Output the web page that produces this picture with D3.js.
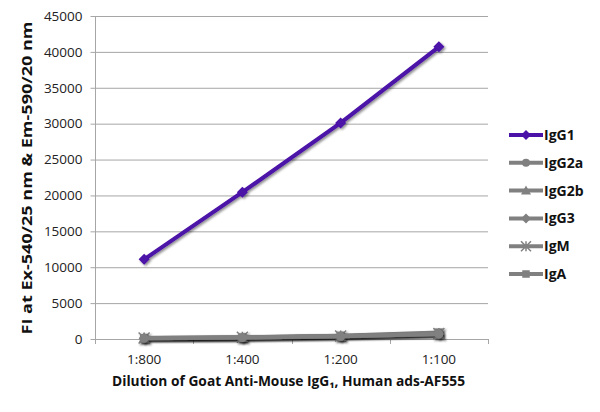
<!DOCTYPE html>
<html><head><meta charset="utf-8">
<script src="https://cdn.jsdelivr.net/npm/d3@7"></script>
<style>body{margin:0;background:#fff;}svg{display:block;}</style>
</head><body><svg id="c" width="600" height="412"></svg>
<script>
const categories = ["1:800","1:400","1:200","1:100"];
const seriesNames = ["IgG1","IgG2a","IgG2b","IgG3","IgM","IgA"];
const IgG1  = [11100, 20450, 30100, 40700];
const IgG2a = [120, 200, 380, 700];
const IgG2b = [100, 180, 350, 650];
const IgG3  = [110, 190, 370, 680];
const IgM   = [150, 250, 420, 750];
const IgA   = [130, 220, 450, 900];
const yTicks = [0,5000,10000,15000,20000,25000,30000,35000,40000,45000];
const yTitle = "FI at Ex-540/25 nm & Em-590/20 nm";
const xTitle = "Dilution of Goat Anti-Mouse IgG\u2081, Human ads-AF555";

const seriesData = [IgG1, IgG2a, IgG2b, IgG3, IgM, IgA];
const colors = ["#4b12a8","#808080","#808080","#808080","#808080","#808080"];
const shapes = ["diamond","circle","triangle","diamond","star","square"];

const svg = d3.select("#c");
const font = "'Open Sans', 'Liberation Sans', sans-serif";
const L=95, R=488, T=16, B=339;
const x = d3.scaleBand().domain(categories).range([L,R]);
const y = d3.scaleLinear().domain([0,45000]).range([B,T]);

const defs = svg.append("defs");
const f = defs.append("filter").attr("id","sh").attr("x","-50%").attr("y","-50%").attr("width","200%").attr("height","200%");
f.append("feDropShadow").attr("dx",1.5).attr("dy",1.5).attr("stdDeviation",1.3).attr("flood-color","#000").attr("flood-opacity",0.45);

// gridlines
svg.append("g").selectAll("line").data(yTicks).join("line")
  .attr("x1",L).attr("x2",R).attr("y1",d=>y(d)+0.5).attr("y2",d=>y(d)+0.5)
  .attr("stroke","#a6a6a6").attr("stroke-width",1);

// y axis
const ya = svg.append("g").attr("transform",`translate(${L+0.5},0)`)
  .call(d3.axisLeft(y).tickValues(yTicks).tickSize(5).tickPadding(8).tickFormat(d3.format("d")));
ya.select(".domain").attr("stroke","#a6a6a6").attr("d",`M0,${T}V${B}`);
ya.selectAll(".tick line").attr("stroke","#a6a6a6");
ya.selectAll(".tick text").attr("font-family",font).attr("font-size","13.5px").attr("fill","#222");

// x axis
const xa = svg.append("g").attr("transform",`translate(0,${B+0.5})`)
  .call(d3.axisBottom(x).tickSize(0).tickPadding(15));
xa.select(".domain").attr("stroke","#a6a6a6").attr("d",`M${L},0H${R}`);
xa.selectAll(".tick text").attr("font-family",font).attr("font-size","13.5px").attr("fill","#222");
// category boundary ticks
const bounds = categories.map(c=>x(c)).concat([R]);
svg.append("g").selectAll("line").data(bounds).join("line")
  .attr("x1",d=>Math.round(d)+0.5).attr("x2",d=>Math.round(d)+0.5)
  .attr("y1",B).attr("y2",B+5).attr("stroke","#a6a6a6");

function marker(sel, shape, size, color){
  const s=size;
  if(shape==="diamond") sel.append("path").attr("d",`M0,${-s}L${s},0L0,${s}L${-s},0Z`).attr("fill",color);
  else if(shape==="circle") sel.append("circle").attr("r",s*0.8).attr("fill",color);
  else if(shape==="triangle") sel.append("path").attr("d",`M0,${-s}L${s},${s*0.8}L${-s},${s*0.8}Z`).attr("fill",color);
  else if(shape==="square") sel.append("rect").attr("x",-s*0.75).attr("y",-s*0.75).attr("width",s*1.5).attr("height",s*1.5).attr("fill",color);
  else if(shape==="star") sel.append("path").attr("d",`M${-s},${-s}L${s},${s}M${-s},${s}L${s},${-s}M0,${-s}V${s}`).attr("stroke",color).attr("stroke-width",1.5).attr("fill","none");
}

const cx = c => x(c)+x.bandwidth()/2;
const order=[5,4,3,2,1,0];
order.forEach(i=>{
  const g = svg.append("g").attr("filter","url(#sh)");
  const line = d3.line().x((d,j)=>cx(categories[j])).y(d=>y(d));
  g.append("path").datum(seriesData[i]).attr("d",line).attr("fill","none")
    .attr("stroke",colors[i]).attr("stroke-width",4).attr("stroke-linejoin","round");
  seriesData[i].forEach((v,j)=>{
    const m = g.append("g").attr("transform",`translate(${cx(categories[j])},${y(v)})`);
    marker(m, shapes[i], 5.5, colors[i]);
  });
});

// legend
const lg = svg.append("g");
seriesNames.forEach((n,i)=>{
  const yy = 135 + i*27.8;
  const g = lg.append("g").attr("transform",`translate(0,${yy})`);
  g.append("line").attr("x1",509).attr("x2",543).attr("stroke",colors[i]).attr("stroke-width",4);
  const m = g.append("g").attr("transform","translate(526,0)");
  marker(m, shapes[i], 5, colors[i]);
  g.append("text").attr("x",544).attr("y",5).text(n)
    .attr("font-family",font).attr("font-weight","bold").attr("font-size","14px").attr("fill","#111");
});

// titles
svg.append("text").attr("transform","translate(32,178) rotate(-90)").attr("text-anchor","middle")
  .attr("font-family",font).attr("font-weight","bold").attr("font-size","13.5px").attr("fill","#111")
  .attr("textLength",313).attr("lengthAdjust","spacingAndGlyphs").text(yTitle);
svg.append("text").attr("x",288.5).attr("y",386).attr("text-anchor","middle")
  .attr("font-family",font).attr("font-weight","bold").attr("font-size","13.5px").attr("fill","#111")
  .attr("textLength",353).attr("lengthAdjust","spacingAndGlyphs").text(xTitle);
</script></body></html>
